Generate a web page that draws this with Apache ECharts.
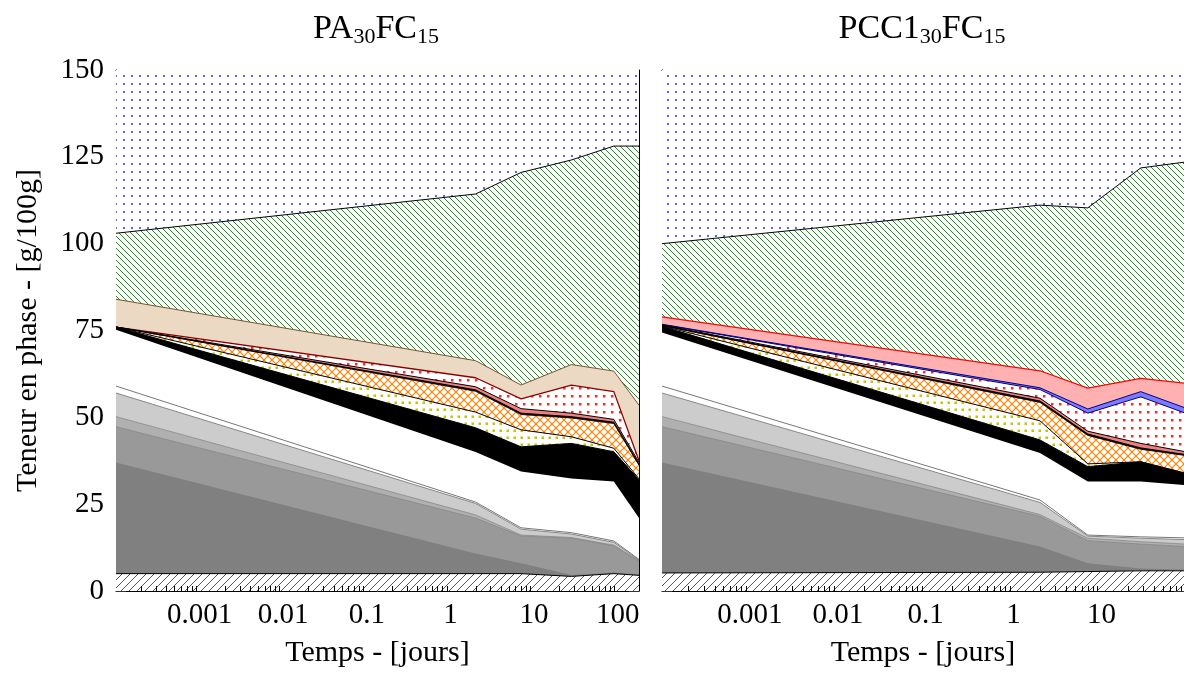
<!DOCTYPE html>
<html><head><meta charset="utf-8">
<script src="https://cdn.jsdelivr.net/npm/echarts@6/dist/echarts.min.js"></script>
<style>html,body{margin:0;padding:0;background:#fff}#c{width:1184px;height:673px}</style>
</head><body><div id="c"></div>
<script>
// ---- data (times in days, boundaries in g/100g = top of each layer) ----
const timesA = [0.0001, 2, 7, 28, 90, 180];
const timesB = [0.0001, 2, 7, 28, 90];
const xTickLabels = ['0.001', '0.01', '0.1', '1', '10', '100'];
const yTickValues = [0, 25, 50, 75, 100, 125, 150];
const titleA = ['PA', '30', 'FC', '15'];
const titleB = ['PCC1', '30', 'FC', '15'];

// Left panel PA30FC15
const A_blue      = [150, 150, 150, 150, 150, 150];
const A_green     = [103, 114.3, 120.5, 124.1, 128.1, 128.1];
const A_beige     = [84, 66.3, 59.3, 65.2, 63.3, 53.5];
const A_redDots   = [76, 61.4, 55.3, 59.3, 57.4, 37.5];
const A_salmon    = [76, 58.8, 52.5, 51.2, 49.4, 37];
const A_thinBlack = [76, 57.9, 51.2, 50.2, 48.6, 36.5];
const A_orange    = [76, 57.5, 50.8, 49.8, 48.2, 36.2];
const A_yellow    = [76, 51.5, 46.4, 44.4, 41.1, 32.3];
const A_black     = [76, 47, 41.5, 42.5, 40.1, 32];
const A_white     = [75.2, 40, 34.4, 32.4, 31.5, 21];
const A_strip     = [59, 25.6, 18.2, 16.8, 14.4, 9.1];
const A_light     = [57, 25.2, 17.8, 16.4, 14, 8.9];
const A_mid       = [50.2, 21.9, 16.1, 15.4, 13.2, 8.7];
const A_gray      = [47.3, 21, 15.8, 15.2, 13, 8.5];
const A_dark      = [37, 10.8, 8, 4.6, 5.3, 4.8];
const A_hatch     = [5, 5, 5, 4.2, 5, 4.5];

// Right panel PCC1_30FC15
const B_blue      = [150, 150, 150, 150, 150];
const B_green     = [100, 111.1, 110.3, 121.8, 123.5];
const B_pink      = [78.9, 63.4, 58.4, 61.2, 59.8];
const B_blueBand  = [76.8, 58.5, 52.4, 57.4, 52.7];
const B_redDots   = [76.7, 58, 51.2, 55.9, 51.2];
const B_salmon    = [76.6, 55.5, 46, 42.5, 40.1];
const B_thinBlack = [76.5, 54.7, 45.2, 41.2, 39.3];
const B_orange    = [76.4, 54.3, 44.8, 40.8, 39];
const B_yellow    = [76.3, 49, 36.6, 37.2, 33.9];
const B_black     = [76.2, 43.5, 35.8, 37.2, 33.9];
const B_white     = [74.4, 39.7, 31.5, 31.5, 30.5];
const B_strip     = [59, 26.2, 16.1, 15.6, 15.3];
const B_light     = [57, 25.5, 15.8, 15.2, 14.8];
const B_mid       = [50.2, 22, 15.2, 14.2, 13.5];
const B_gray      = [47.3, 21.5, 14.5, 13.5, 12.8];
const B_dark      = [37, 12.8, 8, 6.5, 6.2];
const B_hatch     = [5.2, 5.4, 5.6, 5.8, 5.8];

// ---- patterns ----
function tile(w, h, draw) {
  const c = document.createElement('canvas'); c.width = w; c.height = h;
  const g = c.getContext('2d'); g.fillStyle = '#fff'; g.fillRect(0, 0, w, h); draw(g, w, h); return c;
}
function pat(c) { return { image: c, repeat: 'repeat' }; }
const P_blueDots = pat(tile(8, 8, g => { g.fillStyle = '#6060ff'; g.fillRect(3, 3, 2, 2); }));
const P_green = pat(tile(6, 6, (g, w, h) => { g.strokeStyle = '#139a13'; g.lineWidth = 1;
  for (const o of [-w, 0, w]) { g.beginPath(); g.moveTo(o, 0); g.lineTo(o + w, h); g.stroke(); } }));
const P_hatch = pat(tile(8, 8, (g, w, h) => { g.strokeStyle = '#555'; g.lineWidth = 1;
  for (const o of [-w, 0, w]) { g.beginPath(); g.moveTo(o, h); g.lineTo(o + w, 0); g.stroke(); } }));
const P_redDots = pat(tile(8, 8, g => { g.fillStyle = '#ff2a2a'; g.fillRect(3, 3, 2.5, 2.5); }));
const P_yellowDots = pat(tile(7, 7, g => { g.fillStyle = '#c4c400'; g.fillRect(2.5, 2.5, 2.5, 2.5); }));
const P_orange = pat(tile(8, 8, (g, w, h) => { g.strokeStyle = '#ff8000'; g.lineWidth = 1.2;
  for (const o of [-w, 0, w]) {
    g.beginPath(); g.moveTo(o, 0); g.lineTo(o + w, h); g.stroke();
    g.beginPath(); g.moveTo(o, h); g.lineTo(o + w, 0); g.stroke(); } }));

const FONT = "'Liberation Serif', 'DejaVu Serif', serif";

function layer(ax, times, vals, fill, lineColor, lineWidth) {
  return {
    type: 'line', xAxisIndex: ax * 2, yAxisIndex: ax * 2,
    data: times.map((t, i) => [t, vals[i]]),
    showSymbol: false, symbol: 'none', silent: true, animation: false, clip: true,
    areaStyle: { color: fill, opacity: 1 },
    lineStyle: { color: lineColor || '#000', width: lineWidth == null ? 1 : lineWidth }
  };
}

const series = [];
series.push(
  layer(0, timesA, A_blue, P_blueDots, '#000', 0),
  layer(0, timesA, A_green, P_green, '#000', 1),
  layer(0, timesA, A_beige, '#ebd9c4', '#7a5232', 1),
  layer(0, timesA, A_redDots, P_redDots, '#8b0000', 1.3),
  layer(0, timesA, A_salmon, '#f08080', '#000', 1),
  layer(0, timesA, A_thinBlack, '#000', '#000', 1),
  layer(0, timesA, A_orange, P_orange, '#000', 0.8),
  layer(0, timesA, A_yellow, P_yellowDots, '#000', 1),
  layer(0, timesA, A_black, '#000', '#000', 1),
  layer(0, timesA, A_white, '#fff', '#fff', 0),
  layer(0, timesA, A_strip, '#fff', '#777', 1),
  layer(0, timesA, A_light, '#cccccc', '#888', 1),
  layer(0, timesA, A_mid, '#b0b0b0', '#888', 0.8),
  layer(0, timesA, A_gray, '#999999', '#888', 0.8),
  layer(0, timesA, A_dark, '#808080', '#808080', 0),
  layer(0, timesA, A_hatch, P_hatch, '#000', 1)
);
series.push(
  layer(1, timesB, B_blue, P_blueDots, '#000', 0),
  layer(1, timesB, B_green, P_green, '#000', 1),
  layer(1, timesB, B_pink, '#ffb0b0', '#ff0000', 1.2),
  layer(1, timesB, B_blueBand, '#7b7bff', '#000080', 1),
  layer(1, timesB, B_redDots, P_redDots, '#000080', 1),
  layer(1, timesB, B_salmon, '#f08080', '#000', 1),
  layer(1, timesB, B_thinBlack, '#000', '#000', 1),
  layer(1, timesB, B_orange, P_orange, '#000', 0.8),
  layer(1, timesB, B_yellow, P_yellowDots, '#000', 1),
  layer(1, timesB, B_black, '#000', '#000', 1),
  layer(1, timesB, B_white, '#fff', '#fff', 0),
  layer(1, timesB, B_strip, '#fff', '#777', 1),
  layer(1, timesB, B_light, '#cccccc', '#888', 1),
  layer(1, timesB, B_mid, '#b0b0b0', '#888', 0.8),
  layer(1, timesB, B_gray, '#999999', '#888', 0.8),
  layer(1, timesB, B_dark, '#808080', '#808080', 0),
  layer(1, timesB, B_hatch, P_hatch, '#000', 1)
);

// minor log ticks (2..9 x 10^k), bottom edge only
function minorTicks(min, max) {
  const out = [];
  for (let d = -5; d <= 3; d++) for (let k = 2; k <= 9; k++) {
    const v = k * Math.pow(10, d); if (v > min && v < max) out.push([v, 0]);
  }
  return out;
}
const xRanges = [[0.0001, 180], [0.0001, 87]];
[0, 1].forEach(ax => {
  series.push({
    type: 'custom', xAxisIndex: ax * 2, yAxisIndex: ax * 2, silent: true, animation: false, z: 10,
    data: minorTicks(xRanges[ax][0], xRanges[ax][1]),
    renderItem: (p, api) => {
      const v = api.value(0);
      const a = api.coord([v, 0]);
      const x = Math.round(a[0]) + 0.5;
      return { type: 'line', shape: { x1: x, y1: a[1], x2: x, y2: a[1] - 5 }, style: { stroke: '#000', lineWidth: 1 } };
    }
  });
});

function isPow10(v) { const l = Math.log10(v); return Math.abs(l - Math.round(l)) < 1e-6; }
function xAx(grid, range, top) {
  return {
    type: 'log', logBase: 10, gridIndex: grid, min: range[0], max: range[1], splitNumber: 8,
    position: top ? 'top' : 'bottom',
    axisLine: { show: true, onZero: false, lineStyle: { color: '#000', width: 1 } },
    axisTick: { show: !top, inside: true, length: 10, lineStyle: { color: '#000', width: 1 },
      interval: (i, v) => isPow10(Number(v)) },
    splitLine: { show: false }, minorTick: { show: false },
    axisLabel: top ? { show: false } : {
      show: true, margin: 10, fontSize: 29, fontFamily: FONT, color: '#000',
      formatter: v => { if (!isPow10(v)) return ''; const i = Math.round(Math.log10(v)) + 3; return (i >= 0 && i < xTickLabels.length) ? xTickLabels[i] : ''; }
    },
    name: top ? '' : 'Temps - [jours]', nameLocation: 'middle', nameGap: 47,
    nameTextStyle: { fontSize: 30, fontFamily: FONT, color: '#000' }
  };
}
function yAx(grid, right, labels) {
  return {
    type: 'value', gridIndex: grid, min: yTickValues[0], max: yTickValues[yTickValues.length - 1], interval: 25,
    position: right ? 'right' : 'left',
    axisLine: { show: true, lineStyle: { color: '#000', width: 1 } },
    axisTick: { show: true, inside: true, length: 10, lineStyle: { color: '#333', width: 1 } },
    splitLine: { show: false },
    axisLabel: labels ? { show: true, margin: 12, fontSize: 29, fontFamily: FONT, color: '#000' } : { show: false },
    name: labels ? 'Teneur en phase - [g/100g]' : '', nameLocation: 'middle', nameGap: 73, nameRotate: 90,
    nameTextStyle: { fontSize: 30, fontFamily: FONT, color: '#000' }
  };
}

const richT = {
  m: { fontSize: 34, fontFamily: FONT, fill: '#000' },
  s: { fontSize: 22, fontFamily: FONT, fill: '#000', padding: [16, 0, 0, 0] }
};
function titleText(parts) { return `{m|${parts[0]}}{s|${parts[1]}}{m|${parts[2]}}{s|${parts[3]}}`; }

const chart = echarts.init(document.getElementById('c'), null, { renderer: 'canvas' });
chart.setOption({
  animation: false,
  backgroundColor: '#fff',
  grid: [
    { left: 116, top: 70, width: 523, height: 521, outerBoundsMode: 'none', containLabel: false },
    { left: 662, top: 70, width: 522, height: 521, outerBoundsMode: 'none', containLabel: false }
  ],
  xAxis: [xAx(0, xRanges[0], false), xAx(0, xRanges[0], true), xAx(1, xRanges[1], false), xAx(1, xRanges[1], true)],
  yAxis: [yAx(0, false, true), yAx(0, true, false), yAx(1, false, false), yAx(1, true, false)],
  series: series,
  graphic: [
    { type: 'text', x: 376, y: 29, style: { text: titleText(titleA), align: 'center', verticalAlign: 'middle', rich: richT } },
    { type: 'text', x: 922, y: 29, style: { text: titleText(titleB), align: 'center', verticalAlign: 'middle', rich: richT } }
  ]
});
</script></body></html>
